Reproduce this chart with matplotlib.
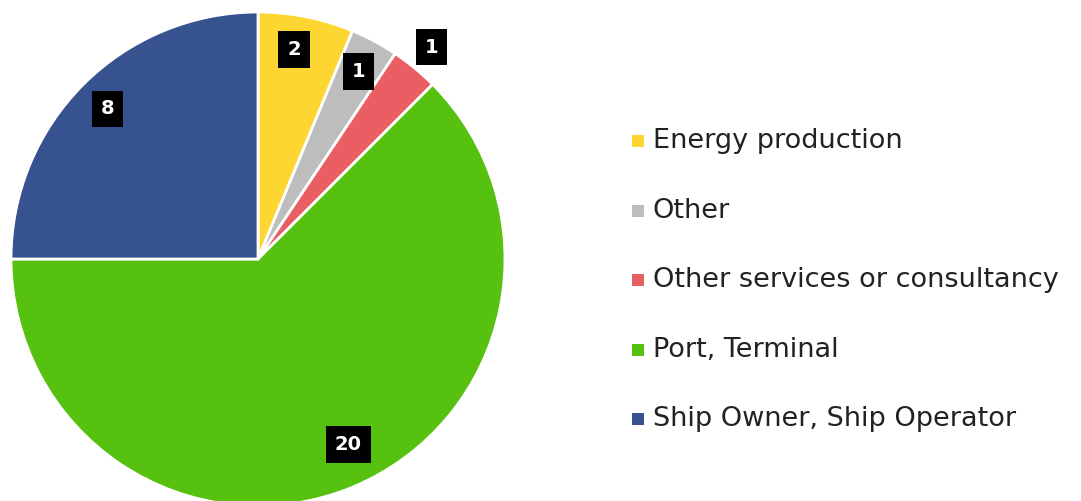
import numpy as np
import matplotlib.pyplot as plt
from matplotlib.patches import Rectangle

plt.rcParams['font.family'] = ['DejaVu Sans']

categories = ['Energy production', 'Other', 'Other services or consultancy',
              'Port, Terminal', 'Ship Owner, Ship Operator']
values = [2, 1, 1, 20, 8]
colors = ['#FDD631', '#BDBDBD', '#E95E63', '#56C20F', '#36528F']
label_dist = [0.86, 0.86, 1.11, 0.835, 0.86]
label_shift = [1.5, 0, 0, 3.5, 0]

fig = plt.figure(figsize=(10.81, 5.01), dpi=100)
ax = fig.add_axes([11 / 1081, -5 / 501, 494 / 1081, 494 / 501])

wedges, _ = ax.pie(values, colors=colors, startangle=90, counterclock=False,
                   radius=1, wedgeprops=dict(edgecolor='white', linewidth=2))
ax.set_xlim(-1, 1)
ax.set_ylim(-1, 1)
ax.set_aspect('equal')
ax.axis('off')

for w, v, d, s in zip(wedges, values, label_dist, label_shift):
    ang = np.deg2rad((w.theta1 + w.theta2) / 2 + s)
    ax.text(d * np.cos(ang), d * np.sin(ang), str(v), ha='center', va='center',
            color='white', fontsize=14, fontweight='bold',
            bbox=dict(boxstyle='square,pad=0.45', facecolor='black', edgecolor='none'))

# legend
y0 = 1 - 141 / 501
dy = 69.5 / 501
for i, (lab, c) in enumerate(zip(categories, colors)):
    y = y0 - i * dy
    fig.patches.append(Rectangle((632 / 1081, y - 6 / 501), 12 / 1081, 12 / 501,
                                 transform=fig.transFigure, facecolor=c,
                                 edgecolor='none'))
    fig.text(653 / 1081, y, lab, ha='left', va='center', fontsize=19.5,
             color='#222222')

fig.savefig('out.png', dpi=100)
